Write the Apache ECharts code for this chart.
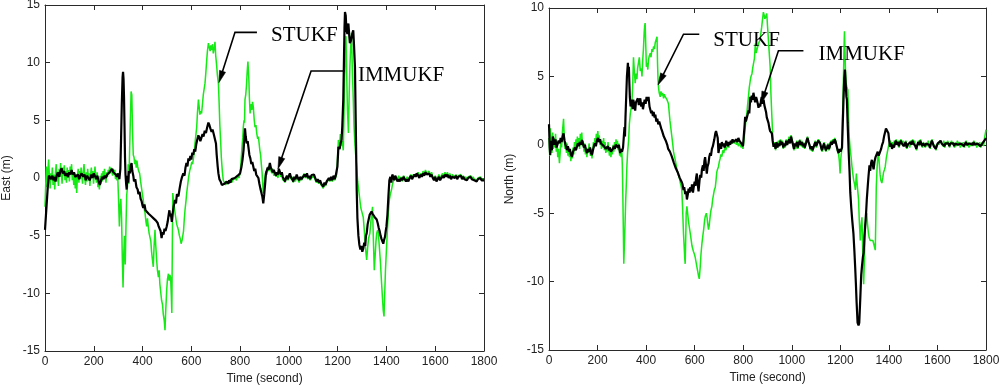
<!DOCTYPE html>
<html>
<head>
<meta charset="utf-8">
<script src="https://cdn.jsdelivr.net/npm/echarts@6/dist/echarts.min.js"></script>
<style>html,body{margin:0;padding:0;background:#fff}#c{width:1000px;height:387px}</style>
</head>
<body>
<div id="c"></div>
<script>
// ---------- data (time in seconds, error in metres) ----------
const xTicks = [0, 200, 400, 600, 800, 1000, 1200, 1400, 1600, 1800];
const eastTicks = [-15, -10, -5, 0, 5, 10, 15];
const northTicks = [-15, -10, -5, 0, 5, 10];
const seriesNames = ['STUKF', 'IMMUKF'];

const eastImmukf = [[0,-4.5],[4,-3.2],[8,-1.9],[12,-0.6],[16,0.2],[20,0.3],[25,-0.1],[30,0.2],[35,-0.2],[40,0.1],[43,-0.3],[48,0.2],[53,0.5],[58,0.1],[63,0.6],[68,0.85],[73,0.4],[78,0.6],[83,0.2],[89,0.4],[94,0.1],[99,0.5],[104,0.3],[109,0.7],[114,0.3],[119,0.5],[124,0.1],[130,0.0],[135,0.3],[140,-0.1],[145,0.2],[150,0.4],[157,0.1],[162,0.3],[167,-0.2],[172,0.2],[178,0.0],[184,-0.2],[190,0.3],[195,0.0],[200,0.4],[205,0.26],[210,-0.1],[215,0.2],[220,-0.3],[225,-0.6],[230,-0.2],[235,0.1],[240,-0.1],[245,0.2],[250,0.0],[255,0.3],[260,0.2],[265,0.5],[270,0.6],[275,0.8],[280,0.5],[285,0.6],[290,0.3],[295,0.1],[300,0.4],[305,-0.1],[309,0.8],[312,3.5],[315,6.5],[318,8.7],[320,9.2],[322,8.6],[324,7.0],[326,4.5],[328,1.8],[330,0.3],[333,-0.6],[335,-1.0],[338,0.2],[341,-0.4],[344,0.6],[348,0.4],[352,1.1],[355,1.3],[358,0.6],[362,0.2],[365,-0.3],[370,-0.1],[375,-0.8],[380,-1.0],[383,-1.4],[388,-1.2],[392,-1.8],[396,-2.0],[400,-2.4],[403,-2.6],[408,-2.3],[412,-2.8],[416,-2.7],[420,-2.9],[425,-3.1],[430,-3.0],[435,-3.3],[440,-3.2],[445,-3.5],[450,-3.4],[455,-3.7],[458,-3.6],[462,-3.9],[466,-4.2],[470,-4.1],[474,-4.6],[478,-5.2],[482,-4.7],[486,-4.9],[490,-4.4],[494,-4.6],[499,-4.2],[503,-3.8],[507,-3.2],[510,-2.8],[513,-3.3],[516,-3.1],[520,-3.8],[524,-3.0],[528,-2.4],[533,-1.9],[537,-2.2],[541,-1.4],[547,-1.6],[552,-0.9],[557,-0.3],[562,0.1],[567,0.4],[572,0.2],[576,0.9],[580,1.3],[584,1.0],[588,1.7],[592,1.5],[596,1.9],[600,1.6],[604,2.2],[608,2.0],[612,2.5],[616,2.3],[620,2.9],[624,3.3],[629,3.7],[633,3.5],[637,3.2],[642,3.3],[646,3.8],[650,3.6],[655,4.1],[660,3.9],[665,4.4],[670,4.8],[674,4.6],[678,4.3],[683,4.0],[687,4.2],[692,3.8],[697,3.7],[701,3.0],[704,2.0],[708,1.0],[711,0.4],[715,-0.1],[720,-0.3],[725,-0.6],[731,-0.75],[736,-0.5],[740,-0.6],[745,-0.3],[750,-0.5],[755,-0.2],[760,-0.4],[765,-0.1],[772,-0.2],[778,0.0],[784,-0.1],[790,0.2],[795,0.1],[800,0.4],[805,0.9],[810,1.6],[814,2.4],[817,3.4],[820,4.3],[823,3.6],[827,3.0],[831,3.2],[834,2.7],[838,2.0],[842,1.7],[846,1.2],[850,1.4],[854,1.0],[858,0.6],[862,0.8],[866,0.3],[870,0.4],[875,0.0],[879,-0.5],[883,-0.9],[887,-1.0],[891,-1.6],[895,-2.2],[899,-1.4],[903,-0.4],[906,0.4],[909,0.3],[913,0.9],[917,0.7],[922,1.3],[926,0.9],[930,1.0],[934,0.5],[938,0.7],[943,0.4],[947,0.2],[951,0.5],[955,0.3],[959,0.8],[963,0.7],[967,0.3],[971,0.5],[975,0.1],[979,-0.1],[984,-0.3],[988,0.0],[992,0.2],[996,-0.1],[1000,0.2],[1004,0.4],[1008,0.1],[1013,0.2],[1018,-0.3],[1022,0.1],[1027,-0.1],[1032,0.3],[1037,0.0],[1042,-0.2],[1047,0.1],[1052,-0.1],[1059,0.0],[1064,0.3],[1069,0.1],[1074,0.4],[1079,0.0],[1084,0.2],[1088,-0.1],[1093,0.26],[1098,0.1],[1103,0.3],[1108,0.0],[1113,-0.3],[1118,-0.1],[1123,-0.4],[1128,-0.2],[1133,-0.5],[1137,-0.6],[1141,-0.75],[1146,-0.4],[1150,-0.6],[1155,-0.3],[1160,-0.4],[1164,0.0],[1168,-0.2],[1173,0.1],[1178,-0.2],[1183,0.2],[1188,-0.1],[1192,0.2],[1196,0.1],[1199,1.0],[1203,2.7],[1208,2.5],[1212,3.0],[1216,3.3],[1219,4.5],[1223,6.8],[1226,10.5],[1228,13.0],[1230,14.4],[1233,14.1],[1236,12.8],[1240,12.5],[1244,13.4],[1247,12.5],[1250,11.7],[1254,11.9],[1258,12.3],[1261,12.6],[1264,12.8],[1267,11.5],[1271,9.6],[1274,5.0],[1278,-1.0],[1281,-3.5],[1285,-5.0],[1289,-5.8],[1293,-6.2],[1297,-5.9],[1301,-6.4],[1305,-6.1],[1309,-5.6],[1313,-5.9],[1316,-5.0],[1319,-4.8],[1323,-4.0],[1327,-3.6],[1331,-3.2],[1335,-3.1],[1339,-2.9],[1343,-3.1],[1347,-3.0],[1352,-3.4],[1356,-3.3],[1360,-3.6],[1364,-3.9],[1368,-4.3],[1372,-4.6],[1376,-5.0],[1380,-5.3],[1384,-5.2],[1387,-5.7],[1390,-5.4],[1394,-5.1],[1397,-4.6],[1400,-4.2],[1404,-3.2],[1408,-1.6],[1412,-0.2],[1416,0.1],[1420,-0.4],[1424,0.3],[1428,0.1],[1432,-0.2],[1436,0.2],[1440,0.0],[1445,-0.3],[1450,-0.1],[1455,-0.3],[1460,0.0],[1465,-0.2],[1470,0.1],[1475,-0.1],[1480,-0.3],[1485,-0.1],[1490,-0.3],[1495,0.0],[1500,0.2],[1505,-0.1],[1510,0.1],[1515,0.3],[1520,0.1],[1525,0.4],[1530,0.2],[1535,0.0],[1540,0.3],[1545,0.1],[1550,0.4],[1555,0.2],[1560,0.5],[1565,0.3],[1570,0.2],[1575,0.4],[1580,0.1],[1585,0.3],[1590,0.0],[1595,-0.2],[1600,0.1],[1605,-0.3],[1610,-0.1],[1615,0.1],[1620,-0.2],[1625,0.0],[1630,0.2],[1635,0.0],[1640,0.3],[1645,0.1],[1650,0.3],[1655,0.0],[1660,0.2],[1665,-0.1],[1670,0.1],[1675,0.2],[1680,0.0],[1685,0.2],[1690,-0.1],[1695,0.1],[1700,0.0],[1705,0.2],[1710,-0.1],[1715,0.1],[1720,-0.1],[1725,0.0],[1730,-0.2],[1735,0.0],[1740,-0.1],[1745,0.1],[1750,-0.1],[1755,0.0],[1760,-0.2],[1765,-0.1],[1770,-0.3],[1775,-0.1],[1780,-0.2],[1785,0.0],[1790,-0.2],[1795,-0.1],[1800,-0.2]];

const eastStukf = [[0,-2.5],[3,-0.5],[6,1.0],[9,-0.8],[12,0.6],[15,1.6],[18,0.2],[21,-0.9],[24,0.4],[27,-0.2],[30,0.9],[33,-0.6],[36,0.3],[40,-1.0],[43,0.5],[46,1.2],[49,-0.3],[52,0.4],[55,-0.7],[58,0.8],[61,0.1],[64,1.3],[67,0.4],[70,-0.5],[73,0.9],[76,0.2],[79,1.1],[82,-0.2],[85,0.6],[88,-0.4],[91,0.9],[94,0.0],[97,0.7],[100,-0.3],[103,1.0],[106,0.3],[109,1.2],[112,-0.2],[115,0.5],[118,-0.6],[121,0.4],[124,-0.9],[127,0.3],[130,-1.3],[133,0.2],[136,0.8],[139,-0.4],[142,0.6],[145,-0.1],[148,0.9],[151,0.2],[154,-0.5],[157,0.6],[160,1.2],[163,0.0],[166,-0.6],[169,0.5],[172,-0.3],[175,0.8],[178,-0.2],[181,0.4],[184,-0.7],[187,0.3],[190,0.9],[193,0.0],[196,0.6],[199,-0.5],[202,0.3],[205,1.0],[208,0.1],[211,-0.4],[214,0.5],[217,-0.8],[220,-0.2],[223,-1.0],[226,0.2],[229,-0.5],[232,0.4],[235,-0.3],[238,0.6],[241,0.0],[244,0.8],[247,0.2],[250,-0.4],[253,0.5],[256,0.1],[259,0.7],[262,0.3],[265,1.0],[268,0.4],[271,0.9],[274,0.6],[277,0.2],[280,0.8],[283,0.3],[286,0.7],[289,-0.1],[292,0.4],[295,-0.2],[298,0.3],[301,-1.5],[305,-4.2],[308,-2.4],[311,-1.8],[314,-3.5],[317,-7.0],[320,-9.5],[323,-6.5],[326,-5.0],[329,-7.5],[332,-4.2],[335,-1.5],[338,-0.8],[341,1.2],[344,-0.5],[347,2.5],[350,5.0],[353,7.5],[356,7.2],[359,4.0],[362,2.0],[365,1.8],[368,1.2],[371,1.6],[374,0.9],[377,1.5],[380,1.0],[384,0.6],[388,0.4],[392,-0.3],[396,-0.9],[400,-1.5],[403,-1.9],[406,-2.6],[410,-3.0],[414,-3.8],[417,-4.2],[420,-3.5],[424,-4.3],[427,-4.8],[430,-4.8],[434,-5.5],[437,-6.4],[440,-7.0],[444,-7.7],[447,-6.0],[451,-4.5],[454,-5.8],[458,-7.2],[461,-8.0],[465,-8.6],[468,-8.0],[471,-9.2],[474,-9.8],[478,-10.6],[482,-11.0],[485,-11.8],[489,-12.4],[492,-13.2],[495,-11.5],[499,-9.7],[502,-8.8],[506,-8.3],[509,-8.9],[512,-8.4],[515,-8.6],[518,-10.2],[520,-11.7],[522,-6.0],[524,-1.3],[527,-2.0],[530,-2.5],[533,-3.0],[537,-3.6],[540,-4.0],[544,-4.3],[547,-4.5],[551,-5.0],[555,-5.3],[558,-5.7],[562,-5.4],[565,-5.0],[568,-4.6],[571,-3.6],[574,-2.8],[578,-2.0],[581,-1.3],[585,-0.6],[589,0.1],[594,0.7],[598,1.0],[602,1.4],[605,1.2],[608,1.6],[612,2.3],[615,3.0],[619,3.8],[622,4.4],[625,5.6],[629,6.8],[632,6.2],[635,5.5],[639,5.8],[642,5.6],[646,6.5],[649,7.2],[653,7.8],[656,8.2],[659,9.0],[663,10.2],[666,11.0],[670,11.7],[673,11.4],[677,11.0],[680,11.5],[683,11.1],[687,11.6],[690,10.8],[694,11.3],[697,11.8],[700,10.6],[704,9.7],[707,8.9],[711,8.2],[714,6.5],[717,4.5],[720,3.3],[723,1.8],[727,0.6],[731,-0.2],[735,-0.4],[740,-0.6],[745,-0.6],[750,-0.3],[755,-0.5],[760,-0.1],[765,-0.4],[770,-0.2],[775,-0.3],[780,0.0],[785,-0.2],[790,0.2],[795,0.0],[800,0.4],[804,1.5],[808,2.8],[811,3.5],[813,4.4],[816,5.0],[818,4.8],[820,6.8],[823,7.2],[826,8.0],[829,9.2],[832,10.1],[834,10.2],[836,8.5],[838,7.0],[841,5.6],[844,6.4],[848,5.9],[851,6.6],[854,6.2],[858,5.0],[861,4.4],[865,4.6],[868,3.9],[872,3.4],[875,3.6],[878,3.0],[881,2.4],[884,2.0],[887,1.2],[890,0.5],[892,-0.3],[895,-1.3],[898,-0.6],[902,0.1],[906,0.6],[910,0.3],[914,1.0],[918,0.6],[922,1.1],[926,0.7],[930,0.4],[934,0.8],[938,0.2],[943,0.5],[947,0.1],[951,0.4],[955,0.0],[959,0.6],[963,0.4],[967,0.1],[971,0.3],[975,-0.2],[979,0.0],[984,-0.4],[988,-0.1],[992,0.2],[996,-0.2],[1000,0.1],[1004,0.3],[1008,-0.1],[1013,0.1],[1018,-0.4],[1022,0.0],[1027,-0.3],[1032,0.2],[1037,-0.1],[1042,-0.4],[1047,0.0],[1052,-0.2],[1057,0.1],[1062,0.4],[1067,0.0],[1072,0.3],[1077,-0.1],[1082,0.1],[1087,-0.2],[1092,0.2],[1097,0.0],[1102,0.2],[1107,-0.1],[1112,-0.4],[1117,-0.2],[1122,-0.5],[1127,-0.3],[1132,-0.6],[1137,-0.7],[1141,-0.9],[1146,-0.5],[1150,-0.7],[1155,-0.4],[1160,-0.5],[1164,-0.1],[1168,-0.3],[1173,0.0],[1178,-0.3],[1183,0.1],[1188,-0.2],[1192,0.1],[1196,0.3],[1199,1.5],[1203,3.3],[1207,2.6],[1211,3.8],[1215,2.8],[1219,3.2],[1223,2.4],[1226,5.5],[1229,9.0],[1232,10.8],[1234,12.3],[1237,9.0],[1240,6.0],[1244,3.9],[1247,7.0],[1250,9.6],[1253,11.2],[1257,12.6],[1260,9.5],[1264,6.8],[1267,4.5],[1271,2.8],[1274,2.0],[1278,1.0],[1282,-0.3],[1286,-1.0],[1291,-1.9],[1295,-2.6],[1300,-3.0],[1305,-3.4],[1309,-4.5],[1313,-5.8],[1316,-6.5],[1319,-7.1],[1323,-6.0],[1327,-5.2],[1332,-4.8],[1336,-3.8],[1340,-3.0],[1343,-2.5],[1346,-5.0],[1350,-8.0],[1353,-7.0],[1357,-5.5],[1360,-4.8],[1364,-4.5],[1367,-4.8],[1371,-6.0],[1375,-7.2],[1380,-9.1],[1384,-10.5],[1387,-11.5],[1390,-12.0],[1393,-10.0],[1396,-8.0],[1400,-6.2],[1404,-4.5],[1408,-3.0],[1412,-1.9],[1416,-1.4],[1421,-1.0],[1425,-0.5],[1430,-0.2],[1435,-0.3],[1440,0.1],[1445,-0.2],[1450,0.2],[1455,-0.1],[1460,0.1],[1465,-0.3],[1470,0.2],[1475,0.0],[1480,-0.2],[1485,0.1],[1490,-0.2],[1495,0.1],[1500,0.3],[1505,0.0],[1510,0.3],[1515,0.1],[1520,0.4],[1525,0.2],[1530,0.5],[1535,0.1],[1540,0.4],[1545,0.2],[1550,0.6],[1555,0.3],[1560,0.7],[1565,0.4],[1570,0.3],[1575,0.6],[1580,0.2],[1585,0.5],[1590,0.1],[1595,-0.1],[1600,0.2],[1605,-0.2],[1610,0.0],[1615,0.3],[1620,-0.1],[1625,0.2],[1630,0.4],[1635,0.1],[1640,0.5],[1645,0.2],[1650,0.5],[1655,0.1],[1660,0.4],[1665,0.0],[1670,0.3],[1675,0.4],[1680,0.1],[1685,0.3],[1690,0.0],[1695,0.2],[1700,0.1],[1705,0.3],[1710,0.0],[1715,0.2],[1720,-0.1],[1725,0.1],[1730,-0.1],[1735,0.1],[1740,0.0],[1745,0.2],[1750,-0.1],[1755,0.1],[1760,-0.1],[1765,0.0],[1770,-0.2],[1775,0.0],[1780,-0.1],[1785,0.1],[1790,-0.1],[1795,0.0],[1800,-0.1]];

const northImmukf = [[0,1.5],[3,-0.2],[5,-0.75],[8,0.3],[12,-0.4],[16,0.6],[19,0.35],[23,0.0],[27,0.4],[31,-0.2],[36,-0.14],[40,0.3],[44,0.1],[48,0.5],[52,0.2],[56,0.6],[60,0.84],[64,0.3],[68,0.0],[71,-0.2],[74,-0.38],[78,-0.1],[82,-0.5],[86,-0.3],[90,-0.7],[95,-0.87],[99,-0.5],[103,-0.6],[107,-0.2],[111,-0.4],[115,-0.14],[119,0.1],[123,-0.1],[127,0.2],[132,0.0],[136,0.35],[140,0.1],[144,-0.2],[148,0.0],[152,-0.4],[157,-0.6],[161,-0.3],[165,-0.5],[169,-0.2],[173,-0.6],[177,-0.75],[181,-0.4],[185,-0.1],[189,0.1],[193,-0.1],[198,0.35],[202,0.5],[206,0.2],[210,0.4],[214,0.1],[218,0.0],[222,0.2],[226,-0.1],[230,0.0],[234,-0.3],[239,-0.26],[243,-0.1],[247,-0.4],[251,-0.2],[255,-0.5],[259,-0.6],[263,-0.3],[267,-0.1],[271,-0.3],[275,0.0],[280,0.1],[284,-0.2],[288,0.0],[293,-0.6],[297,-0.3],[301,-0.5],[305,-0.2],[307,-0.1],[309,0.8],[311,1.3],[313,0.6],[315,2.0],[318,3.5],[321,5.0],[323,5.5],[325,6.0],[327,5.2],[329,5.7],[331,4.5],[333,3.5],[336,2.8],[339,2.8],[342,3.3],[345,2.6],[347,3.3],[351,3.0],[355,2.5],[358,3.1],[362,3.0],[366,3.4],[370,2.9],[373,3.2],[376,3.4],[380,2.8],[384,3.1],[387,2.6],[390,2.9],[394,3.3],[398,3.0],[402,3.5],[406,3.2],[410,3.5],[414,2.8],[418,2.9],[421,2.3],[424,2.5],[428,2.1],[431,2.4],[435,2.0],[438,2.2],[442,1.7],[446,1.9],[450,1.5],[454,1.7],[458,1.6],[462,1.2],[466,1.0],[470,0.9],[473,0.6],[477,0.7],[481,0.3],[484,0.4],[487,0.0],[491,-0.3],[494,-0.2],[498,-0.5],[502,-0.6],[506,-0.87],[510,-1.0],[514,-1.3],[518,-1.4],[522,-1.7],[526,-1.8],[530,-2.0],[534,-2.2],[538,-2.4],[542,-2.5],[546,-2.7],[550,-2.9],[554,-3.3],[557,-3.1],[561,-3.6],[565,-3.4],[568,-4.0],[572,-3.6],[575,-3.2],[579,-3.5],[582,-3.1],[586,-3.4],[589,-2.9],[593,-3.5],[596,-3.1],[600,-2.7],[603,-3.0],[606,-2.4],[609,-2.1],[612,-2.8],[616,-3.4],[620,-2.6],[623,-2.2],[627,-2.4],[630,-1.8],[634,-1.5],[637,-1.9],[640,-1.2],[643,-0.9],[646,-1.4],[650,-2.1],[653,-1.6],[657,-1.35],[660,-0.9],[664,-0.6],[667,-0.8],[671,-0.3],[675,-0.1],[678,0.0],[681,0.4],[685,0.84],[688,1.0],[692,1.1],[695,0.5],[698,-0.6],[702,-0.2],[705,0.1],[709,-0.3],[712,0.2],[716,-0.1],[719,0.1],[723,-0.2],[727,0.0],[730,0.3],[733,0.1],[737,-0.1],[741,0.2],[745,0.0],[749,0.3],[752,0.1],[756,0.4],[760,0.2],[764,0.3],[768,0.1],[772,0.4],[776,0.2],[780,0.5],[784,0.3],[788,0.35],[792,0.1],[796,0.2],[799,-0.1],[801,-0.14],[803,0.8],[806,1.5],[808,2.05],[811,1.7],[815,1.8],[818,2.2],[822,2.5],[825,2.3],[829,3.5],[832,3.1],[835,3.6],[839,3.3],[842,3.8],[846,3.4],[849,3.1],[853,3.5],[856,3.3],[860,3.0],[863,2.7],[867,3.0],[870,2.8],[873,3.2],[876,3.5],[880,3.0],[884,3.3],[887,2.9],[890,2.8],[894,2.4],[897,2.0],[901,1.9],[904,1.6],[908,1.2],[911,1.0],[915,0.9],[918,0.84],[921,0.3],[925,-0.14],[929,0.1],[933,-0.3],[937,0.2],[941,-0.2],[945,0.1],[949,-0.1],[953,0.3],[957,0.0],[961,0.2],[965,-0.2],[969,0.1],[973,-0.1],[977,0.3],[981,0.0],[985,0.2],[989,0.4],[993,0.1],[997,0.6],[1001,0.3],[1005,0.0],[1009,-0.3],[1013,0.1],[1017,-0.1],[1021,0.2],[1025,-0.2],[1029,0.1],[1033,0.3],[1037,0.0],[1041,0.2],[1045,-0.1],[1049,0.1],[1053,-0.2],[1057,0.0],[1061,0.3],[1065,0.5],[1069,0.2],[1073,0.0],[1077,-0.3],[1081,-0.1],[1085,-0.4],[1089,-0.2],[1093,0.0],[1097,0.2],[1101,-0.1],[1105,0.1],[1109,0.3],[1113,0.35],[1117,0.1],[1121,-0.2],[1125,-0.4],[1129,-0.1],[1133,0.1],[1137,-0.2],[1141,-0.4],[1145,-0.2],[1149,0.0],[1153,-0.3],[1157,-0.1],[1161,0.2],[1165,0.0],[1169,0.3],[1173,0.1],[1177,0.4],[1181,0.2],[1185,-0.1],[1189,-0.4],[1193,-0.6],[1197,-0.3],[1201,-0.5],[1204,-0.6],[1207,-0.2],[1210,1.5],[1213,3.3],[1216,4.8],[1219,5.5],[1222,4.5],[1225,3.5],[1227,3.3],[1230,1.6],[1234,-0.4],[1238,-2.0],[1241,-3.5],[1245,-4.6],[1249,-5.5],[1254,-6.5],[1258,-7.8],[1261,-8.9],[1264,-10.1],[1267,-11.5],[1271,-13.0],[1275,-13.2],[1278,-13.0],[1282,-11.3],[1286,-9.5],[1289,-8.9],[1293,-8.2],[1296,-7.9],[1299,-6.8],[1302,-6.0],[1306,-5.0],[1309,-4.0],[1313,-3.0],[1316,-2.3],[1320,-1.5],[1323,-1.9],[1327,-1.3],[1330,-1.1],[1334,-1.5],[1337,-1.8],[1341,-1.2],[1345,-0.9],[1350,-0.87],[1354,-0.5],[1358,-0.8],[1364,-0.87],[1368,-0.3],[1372,0.0],[1376,0.2],[1380,0.6],[1384,0.9],[1388,1.2],[1391,1.3],[1395,1.1],[1398,0.84],[1402,0.2],[1405,-0.14],[1409,0.1],[1413,-0.3],[1417,0.0],[1421,-0.2],[1425,0.1],[1429,0.3],[1433,0.0],[1437,0.2],[1441,-0.1],[1445,0.1],[1449,0.3],[1453,0.1],[1457,0.2],[1461,-0.1],[1465,0.0],[1469,0.2],[1473,-0.2],[1477,0.0],[1481,0.1],[1485,-0.1],[1489,0.2],[1493,0.0],[1497,0.3],[1501,0.1],[1505,0.2],[1509,-0.1],[1513,-0.3],[1517,0.0],[1521,0.2],[1525,0.0],[1529,0.3],[1533,0.1],[1537,-0.1],[1541,0.1],[1545,0.2],[1549,-0.1],[1553,0.1],[1557,0.0],[1561,0.2],[1565,0.0],[1569,-0.2],[1573,0.1],[1577,0.3],[1581,0.1],[1585,-0.1],[1589,0.0],[1593,-0.3],[1597,-0.1],[1601,0.1],[1605,0.0],[1609,0.2],[1613,0.3],[1617,0.1],[1621,0.0],[1625,0.2],[1629,-0.1],[1633,0.1],[1637,0.0],[1641,0.2],[1645,0.1],[1649,-0.1],[1653,0.1],[1657,0.2],[1661,0.0],[1665,0.1],[1669,-0.1],[1673,0.1],[1677,0.0],[1681,0.2],[1685,0.0],[1689,0.1],[1693,-0.1],[1697,0.1],[1701,0.0],[1705,0.1],[1709,-0.1],[1713,0.0],[1717,0.2],[1721,0.0],[1725,0.1],[1729,-0.1],[1733,0.1],[1737,0.0],[1741,0.1],[1745,0.0],[1749,0.2],[1753,0.0],[1757,0.1],[1761,-0.1],[1765,0.1],[1769,0.0],[1773,0.1],[1777,-0.1],[1781,0.0],[1785,0.1],[1789,0.0],[1793,0.2],[1797,0.4],[1800,0.5]];

const northStukf = [[0,0.5],[3,-0.8],[6,1.2],[9,0.2],[12,-0.6],[15,0.9],[18,-0.3],[21,0.5],[24,-0.2],[27,0.8],[30,-0.5],[33,0.3],[36,-0.9],[39,-0.3],[43,-1.35],[46,-0.6],[49,0.4],[52,-0.2],[55,0.9],[58,1.5],[60,1.9],[63,0.5],[66,-0.3],[69,0.2],[72,-0.6],[75,0.1],[78,-0.8],[81,-0.2],[84,-0.9],[87,-0.4],[90,-1.2],[93,-0.5],[96,-1.0],[99,-0.2],[102,-0.7],[105,0.2],[108,-0.4],[111,0.4],[114,-0.1],[117,0.6],[120,0.0],[123,0.5],[126,-0.3],[129,0.8],[132,0.2],[135,0.9],[138,-0.1],[141,0.3],[144,-0.5],[147,0.1],[150,-0.7],[153,-0.2],[156,-0.9],[159,-0.3],[162,-0.6],[165,0.1],[168,-0.5],[171,-0.8],[174,-0.3],[177,-1.0],[180,-0.4],[183,0.2],[186,-0.2],[189,0.5],[192,0.1],[195,0.8],[198,0.4],[201,1.0],[204,0.3],[207,0.7],[210,0.0],[213,0.4],[216,-0.3],[219,0.3],[222,-0.2],[225,0.5],[228,-0.4],[231,0.2],[234,-0.6],[237,-0.1],[240,-0.5],[243,0.2],[246,-0.3],[249,-0.8],[252,-0.2],[255,-0.9],[258,-0.4],[261,-0.7],[264,0.0],[267,-0.5],[270,0.2],[273,-0.3],[276,0.4],[279,-0.1],[282,0.3],[285,-0.4],[288,0.1],[291,-0.8],[294,-0.4],[297,-0.9],[300,-0.5],[302,-1.5],[304,-3.5],[306,-6.0],[308,-8.7],[310,-8.8],[312,-6.5],[314,-5.3],[316,-4.0],[318,-3.1],[321,-1.5],[324,-0.5],[328,0.35],[331,1.5],[335,2.3],[338,2.6],[342,3.3],[345,4.5],[348,6.4],[351,5.5],[355,4.5],[358,5.2],[362,4.8],[365,5.6],[369,5.7],[372,6.4],[376,5.4],[380,5.6],[383,5.0],[386,6.2],[389,7.0],[392,8.2],[394,8.7],[396,8.9],[399,7.0],[401,5.7],[404,6.0],[407,5.5],[410,6.2],[413,6.5],[417,6.7],[420,6.4],[424,7.0],[427,6.8],[431,7.2],[434,7.0],[438,7.5],[441,7.6],[445,7.9],[447,6.0],[449,4.8],[451,4.2],[454,3.8],[458,3.5],[461,3.9],[465,3.6],[468,3.8],[472,3.4],[475,3.7],[479,3.5],[483,3.6],[486,3.3],[489,3.2],[492,3.0],[495,2.4],[498,1.8],[502,1.2],[506,0.6],[510,0.0],[513,-0.5],[516,-0.8],[520,-1.1],[524,-1.5],[527,-1.8],[531,-2.1],[534,-2.1],[538,-2.5],[541,-2.8],[544,-3.0],[547,-3.3],[550,-4.5],[552,-5.5],[554,-6.5],[557,-7.5],[559,-8.3],[561,-8.7],[563,-7.0],[565,-5.0],[568,-4.5],[571,-5.0],[574,-5.5],[577,-5.9],[579,-6.0],[582,-6.5],[586,-7.0],[589,-7.4],[592,-7.6],[595,-7.8],[599,-8.0],[602,-8.2],[605,-8.5],[609,-8.9],[612,-9.2],[616,-9.6],[619,-9.8],[623,-8.9],[626,-8.0],[630,-7.2],[634,-6.6],[637,-6.2],[641,-5.5],[644,-5.2],[648,-5.0],[651,-5.3],[654,-5.8],[657,-6.2],[660,-5.9],[664,-5.2],[667,-4.8],[671,-4.5],[674,-4.0],[678,-3.6],[681,-3.3],[685,-3.1],[688,-2.6],[691,-2.0],[694,-1.8],[698,-1.6],[702,-1.2],[705,-1.0],[708,-0.7],[712,-0.87],[716,-0.4],[720,-0.6],[724,-0.2],[728,-0.4],[733,-0.14],[737,0.1],[741,-0.2],[745,0.2],[749,0.0],[753,0.3],[757,0.1],[760,0.35],[764,0.1],[768,0.3],[772,0.0],[776,0.2],[780,-0.1],[784,0.1],[788,0.1],[792,-0.2],[796,0.0],[799,-0.3],[801,-0.4],[804,0.5],[808,1.2],[812,2.0],[815,2.3],[818,2.9],[822,3.6],[825,4.2],[829,4.7],[832,5.0],[836,5.2],[839,5.6],[842,5.7],[846,6.3],[850,7.4],[853,6.7],[856,6.9],[860,7.2],[863,7.4],[867,7.5],[870,7.7],[873,8.2],[876,8.6],[879,9.1],[883,9.7],[886,9.5],[889,9.2],[893,9.4],[897,9.6],[900,8.7],[904,7.6],[908,6.5],[911,5.7],[914,3.8],[918,2.05],[921,0.9],[925,-0.14],[929,0.2],[933,-0.4],[937,0.1],[941,-0.2],[945,0.3],[949,-0.1],[953,0.4],[957,0.1],[961,0.3],[965,-0.3],[969,0.0],[973,-0.2],[977,0.4],[981,0.1],[985,0.3],[989,0.6],[993,0.2],[997,0.7],[1001,0.4],[1005,0.1],[1009,-0.4],[1013,0.0],[1017,-0.3],[1021,0.3],[1025,-0.3],[1029,0.1],[1033,0.4],[1037,-0.1],[1041,0.3],[1045,-0.2],[1049,0.2],[1053,-0.3],[1057,0.1],[1061,0.4],[1065,0.6],[1069,0.3],[1073,-0.1],[1077,-0.4],[1081,-0.2],[1085,-0.5],[1089,-0.3],[1093,0.1],[1097,0.3],[1101,-0.2],[1105,0.2],[1109,0.4],[1113,0.5],[1117,0.2],[1121,-0.3],[1125,-0.5],[1129,-0.2],[1133,0.2],[1137,-0.3],[1141,-0.5],[1145,-0.1],[1149,0.1],[1153,-0.4],[1157,-0.2],[1161,0.3],[1165,0.1],[1169,0.4],[1173,0.2],[1177,0.5],[1181,0.3],[1185,-0.2],[1189,-0.5],[1193,-0.7],[1196,-1.2],[1199,-2.1],[1202,-1.0],[1205,-0.5],[1208,1.5],[1211,3.5],[1213,5.0],[1215,7.0],[1217,8.3],[1219,7.0],[1221,5.5],[1224,4.5],[1227,4.2],[1231,4.0],[1234,2.0],[1237,0.5],[1241,-0.4],[1245,-1.0],[1248,-1.6],[1252,-2.2],[1255,-2.6],[1259,-2.9],[1262,-3.3],[1266,-2.1],[1270,-3.0],[1275,-4.0],[1278,-5.5],[1282,-7.0],[1285,-6.0],[1289,-5.3],[1292,-7.5],[1294,-9.0],[1296,-10.2],[1299,-8.5],[1302,-6.5],[1305,-5.5],[1309,-5.0],[1312,-5.8],[1316,-6.5],[1319,-6.8],[1323,-7.0],[1327,-6.9],[1330,-7.1],[1334,-7.0],[1337,-7.2],[1341,-7.5],[1344,-7.7],[1346,-5.5],[1348,-3.1],[1351,-1.8],[1354,-0.9],[1357,-0.6],[1361,-1.5],[1364,-2.2],[1367,-2.6],[1371,-2.8],[1375,-2.4],[1378,-2.0],[1382,-1.8],[1385,-1.6],[1389,-1.0],[1393,-0.6],[1398,-0.14],[1402,0.1],[1406,0.3],[1410,-0.1],[1414,0.2],[1418,-0.2],[1422,0.3],[1426,0.0],[1430,0.4],[1434,0.1],[1438,0.3],[1442,-0.2],[1446,0.2],[1450,0.4],[1454,0.1],[1458,0.3],[1462,-0.1],[1466,0.1],[1470,0.3],[1474,-0.3],[1478,0.1],[1482,0.2],[1486,-0.2],[1490,0.3],[1494,0.0],[1498,0.4],[1502,0.1],[1506,0.3],[1510,-0.2],[1514,-0.4],[1518,0.0],[1522,0.3],[1526,-0.1],[1530,0.4],[1534,0.1],[1538,-0.2],[1542,0.2],[1546,0.3],[1550,-0.2],[1554,0.1],[1558,-0.1],[1562,0.3],[1566,0.0],[1570,-0.3],[1574,0.2],[1578,0.4],[1582,0.1],[1586,-0.2],[1590,0.0],[1594,-0.4],[1598,-0.1],[1602,0.2],[1606,0.0],[1610,0.3],[1614,0.4],[1618,0.1],[1622,-0.1],[1626,0.3],[1630,-0.2],[1634,0.2],[1638,0.0],[1642,0.3],[1646,0.1],[1650,-0.2],[1654,0.1],[1658,0.3],[1662,0.0],[1666,0.2],[1670,-0.2],[1674,0.1],[1678,-0.1],[1682,0.3],[1686,0.0],[1690,0.2],[1694,-0.2],[1698,0.1],[1702,-0.1],[1706,0.2],[1710,-0.2],[1714,0.0],[1718,0.3],[1722,-0.1],[1726,0.2],[1730,-0.2],[1734,0.1],[1738,-0.1],[1742,0.2],[1746,-0.1],[1750,0.3],[1754,0.0],[1758,0.2],[1762,-0.2],[1766,0.1],[1770,-0.1],[1774,0.2],[1778,-0.2],[1782,0.0],[1786,0.2],[1790,-0.1],[1794,0.5],[1797,0.8],[1800,1.1]];

// annotation anchors in data coordinates (time, metres)
const annotations = [
  {grid: 0, label: 'STUKF',  text: [927, 12.36], end: [869, 12.63],  elbow: [779, 12.63], tip: [713, 8.26]},
  {grid: 0, label: 'IMMUKF', text: [1283, 8.89], end: [1230, 9.28],  elbow: [1091, 9.28], tip: [955, 0.78]},
  {grid: 1, label: 'STUKF',  text: [677, 7.66],  end: [619, 8.08],   elbow: [554, 8.08],  tip: [449, 4.37]},
  {grid: 1, label: 'IMMUKF', text: [1110, 6.6],  end: [1048, 6.88],  elbow: [945, 6.88],  tip: [874, 3.03]}
];

// ---------- chart ----------
const AX = '#2a2a2a';
const LBL = '#222';
const FONT = '"Liberation Sans", Arial, Helvetica, sans-serif';
const GREEN = '#14ea14';

function xAxisCfg(g, top) {
  return {
    gridIndex: g, type: 'value', min: xTicks[0], max: xTicks[xTicks.length - 1],
    interval: xTicks[1] - xTicks[0], position: top ? 'top' : 'bottom',
    axisLine: {show: true, onZero: false, lineStyle: {color: AX, width: 1}},
    axisTick: {show: true, inside: true, length: 5, lineStyle: {color: AX}},
    axisLabel: {show: !top, margin: 5, color: LBL, fontSize: 12, fontFamily: FONT,
      formatter: v => String(v)},
    splitLine: {show: false},
    name: top ? '' : 'Time (second)', nameLocation: 'middle', nameGap: 21,
    nameTextStyle: {color: LBL, fontSize: 12, fontFamily: FONT}
  };
}
function yAxisCfg(g, right, ticks, name, gap) {
  return {
    gridIndex: g, type: 'value', min: ticks[0], max: ticks[ticks.length - 1],
    interval: ticks[1] - ticks[0], position: right ? 'right' : 'left',
    axisLine: {show: true, onZero: false, lineStyle: {color: AX, width: 1}},
    axisTick: {show: true, inside: true, length: 5, lineStyle: {color: AX}},
    axisLabel: {show: !right, margin: 5, color: LBL, fontSize: 12, fontFamily: FONT,
      formatter: v => String(v)},
    splitLine: {show: false},
    name: right ? '' : name, nameLocation: 'middle', nameGap: gap,
    nameTextStyle: {color: LBL, fontSize: 12, fontFamily: FONT}
  };
}
function lineSeries(xi, yi, data, color, width, z, name) {
  return {type: 'line', name: name, xAxisIndex: xi, yAxisIndex: yi, data: data,
    showSymbol: false, symbol: 'none', z: z, silent: true,
    lineStyle: {color: color, width: width}};
}

const chart = echarts.init(document.getElementById('c'), null, {renderer: 'canvas'});
const option = {
  animation: false,
  backgroundColor: '#ffffff',
  grid: [
    {left: 45, top: 5, width: 439, height: 346, outerBoundsMode: 'none', containLabel: false},
    {left: 549, top: 8, width: 437, height: 342, outerBoundsMode: 'none', containLabel: false}
  ],
  xAxis: [xAxisCfg(0, false), xAxisCfg(0, true), xAxisCfg(1, false), xAxisCfg(1, true)],
  yAxis: [
    yAxisCfg(0, false, eastTicks, 'East (m)', 32), yAxisCfg(0, true, eastTicks, '', 0),
    yAxisCfg(1, false, northTicks, 'North (m)', 33), yAxisCfg(1, true, northTicks, '', 0)
  ],
  series: [
    lineSeries(0, 0, eastStukf, GREEN, 1.5, 2, seriesNames[0]),
    lineSeries(0, 0, eastImmukf, '#000', 2.2, 3, seriesNames[1]),
    lineSeries(2, 2, northStukf, GREEN, 1.5, 2, seriesNames[0]),
    lineSeries(2, 2, northImmukf, '#000', 2.2, 3, seriesNames[1])
  ]
};
chart.setOption(option);

// annotations (label + bent leader line with arrow head), placed via the axes' scales
function buildAnnotations() {
  const els = [];
  annotations.forEach(a => {
    const f = p => chart.convertToPixel({gridIndex: a.grid}, p);
    const pe = f(a.end), pb = f(a.elbow), pt = f(a.tip), px = f(a.text);
    const dx = pt[0] - pb[0], dy = pt[1] - pb[1];
    const len = Math.sqrt(dx * dx + dy * dy);
    const ux = dx / len, uy = dy / len;
    const L = 12, W = 3.2;
    const bx = pt[0] - ux * L, by = pt[1] - uy * L;
    els.push({type: 'polyline', z: 50, silent: true,
      shape: {points: [pe, pb, [bx + ux * 2, by + uy * 2]]},
      style: {stroke: '#000', lineWidth: 1.6, fill: null}});
    els.push({type: 'polygon', z: 50, silent: true,
      shape: {points: [pt, [bx - uy * W, by + ux * W], [bx + uy * W, by - ux * W]]},
      style: {fill: '#000', stroke: '#000', lineWidth: 0.5}});
    els.push({type: 'text', z: 50, silent: true, x: px[0], y: px[1],
      style: {text: a.label, fill: '#000', align: 'left', verticalAlign: 'middle',
        font: '21px "Liberation Serif", "Times New Roman", Times, serif'}});
  });
  chart.setOption({graphic: {elements: els}});
}
buildAnnotations();
</script>
</body>
</html>
